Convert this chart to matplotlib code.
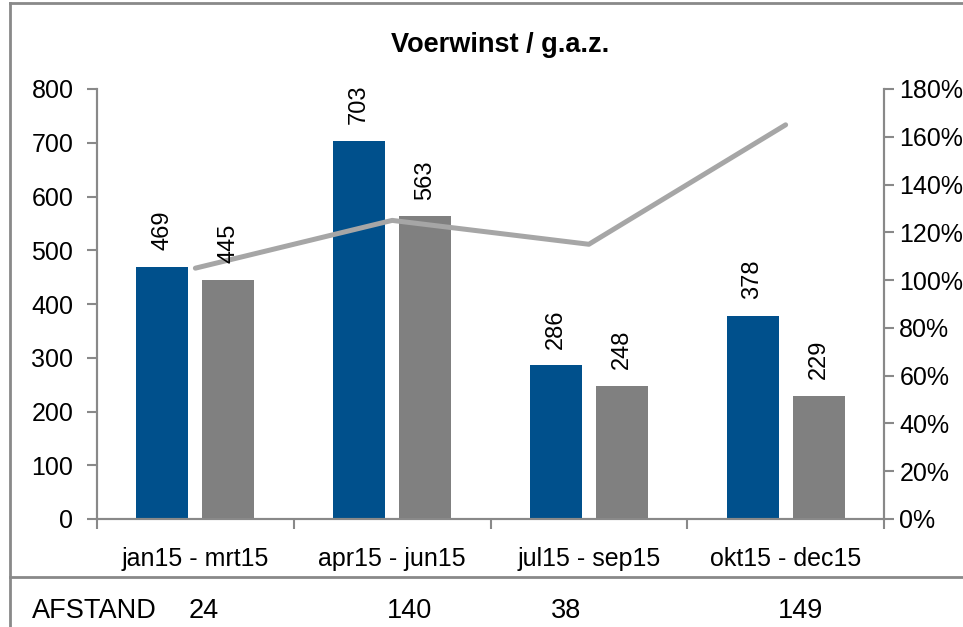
import numpy as np
import matplotlib.pyplot as plt
from matplotlib.lines import Line2D

plt.rcParams['font.family'] = ['Liberation Sans', 'DejaVu Sans']

# Gegevens
perioden = ["jan15 - mrt15", "apr15 - jun15", "jul15 - sep15", "okt15 - dec15"]
voerwinst_blauw = [469, 703, 286, 378]
voerwinst_grijs = [445, 563, 248, 229]
verhouding_pct = [105, 125, 115, 165]
afstand = [24, 140, 38, 149]

blauw = "#00508C"
grijs = "#808080"
lijn_grijs = "#A6A6A6"
as_grijs = "#898989"

fig = plt.figure(figsize=(9.63, 6.27), dpi=100)
ax = fig.add_axes([97/963, 1 - 519/627, (884 - 97)/963, (519 - 89)/627])
ax2 = ax.twinx()
ax2.patch.set_visible(False)

x = np.arange(len(perioden))
bw = 0.264
off = 0.168
ax.bar(x - off, voerwinst_blauw, bw, color=blauw, zorder=2)
ax.bar(x + off, voerwinst_grijs, bw, color=grijs, zorder=2)

ax2.plot(x, verhouding_pct, color=lijn_grijs, lw=3.6, solid_capstyle="round",
         solid_joinstyle="round", zorder=3)

# labels boven de staven (op ax2, zodat ze boven de lijn liggen)
for xs, vals in ((x - off, voerwinst_blauw), (x + off, voerwinst_grijs)):
    for xi, v in zip(xs, vals):
        ax2.annotate(str(v), (xi, v), xycoords=ax.transData, xytext=(0, 12),
                     textcoords="offset points", rotation=90, ha="center",
                     va="bottom", fontsize=17, zorder=5)

# as-instellingen
ax.set_xlim(-0.5, len(perioden) - 0.5)
ax.set_ylim(0, 800)
ax.set_yticks(range(0, 801, 100))
ax2.set_ylim(0, 180)
ax2.set_yticks(range(0, 181, 20))
ax2.set_yticklabels(["{}%".format(t) for t in range(0, 181, 20)])

ax.set_xticks(x)
ax.set_xticklabels(perioden)
ax.set_xticks(np.arange(-0.5, len(perioden)), minor=True)
ax.tick_params(axis="x", which="major", length=0, pad=20, labelsize=18)
ax.tick_params(axis="x", which="minor", length=7, width=1.5, color=as_grijs, direction="out")
ax.tick_params(axis="y", length=7, width=1.5, color=as_grijs, pad=10, labelsize=18)
ax2.tick_params(axis="y", length=7, width=1.5, color=as_grijs, pad=4, labelsize=18)

for a in (ax, ax2):
    a.spines["top"].set_visible(False)
    for s in ("left", "right", "bottom"):
        a.spines[s].set_color(as_grijs)
        a.spines[s].set_linewidth(1.5)

fig.text(0.519, 1 - 45/627, "Voerwinst / g.a.z.", ha="center", va="center",
         fontsize=19.5, fontweight="bold")

# kader en tabelregel
fig.add_artist(Line2D([10/963, 10/963], [0, 1 - 3/627], color=as_grijs, lw=2))
fig.add_artist(Line2D([10/963, 1], [1 - 3/627, 1 - 3/627], color=as_grijs, lw=2))
fig.add_artist(Line2D([10/963, 1], [1 - 577/627, 1 - 577/627], color=as_grijs, lw=2))

fig.text(32/963, 1 - 611/627, "AFSTAND", ha="left", va="center", fontsize=19.5)
tabel_x = [204, 409, 566, 800]
for px, v in zip(tabel_x, afstand):
    fig.text(px/963, 1 - 611/627, str(v), ha="center", va="center", fontsize=19.5)

fig.savefig("out.png", dpi=100)
